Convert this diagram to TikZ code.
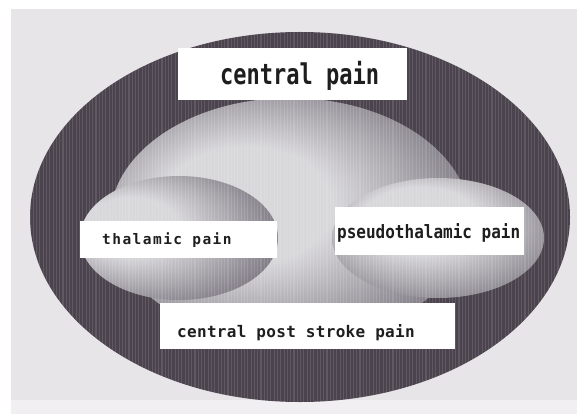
\documentclass[tikz,border=0pt]{standalone}
\usepackage{graphicx}
\usepackage{fontspec}
\newfontfamily\bigfont{DejaVu Sans Mono Bold}
\newfontfamily\thalfont{DejaVu Sans Mono Bold}[LetterSpace=10]
\newfontfamily\cpspfont{DejaVu Sans Mono Bold}[LetterSpace=2]
\definecolor{bgpaper}{HTML}{E7E5E8}
\definecolor{ringdark}{HTML}{4B434D}
\definecolor{midgray}{HTML}{7E7983}
\definecolor{lightcore}{HTML}{D8D7DA}
\definecolor{inkc}{HTML}{1E1E1E}
\pgfdeclareradialshading{coreshade}{\pgfpoint{-8bp}{4bp}}{color(0bp)=(lightcore); color(12bp)=(lightcore); color(30bp)=(midgray); color(44bp)=(ringdark); color(50bp)=(ringdark)}
\pgfdeclareradialshading{thalshade}{\pgfpoint{-16bp}{6bp}}{color(0bp)=(lightcore); color(12bp)=(lightcore); color(32bp)=(midgray); color(50bp)=(ringdark!75!white)}
\pgfdeclareradialshading{pseudoshade}{\pgfpoint{-6bp}{10bp}}{color(0bp)=(lightcore); color(14bp)=(lightcore); color(34bp)=(midgray); color(50bp)=(ringdark!80!white)}
\tikzset{
  whitebox/.style={fill=white},
  labeltext/.style={inner sep=0pt, text=inkc, anchor=base west},
  stripe/.style={white, opacity=0.12, line width=1.1pt},
}
\begin{document}
\begin{tikzpicture}[x=1pt,y=-1pt]
\useasboundingbox (0,0) rectangle (577,414);
\fill[white] (0,0) rectangle (577,414);
\fill[bgpaper] (11,9) rectangle (577,400);
\fill[bgpaper!60!white] (11,400) rectangle (577,414);
% outer ellipse
\fill[ringdark] (300,217) ellipse [x radius=270, y radius=185];
% inner lighter region
\shade[shading=coreshade] (290,220) ellipse [x radius=180, y radius=122];
% small ellipses
\shade[shading=thalshade] (179,238) ellipse [x radius=99, y radius=62];
\shade[shading=pseudoshade] (438,238) ellipse [x radius=106, y radius=60];
% halftone stripes
\begin{scope}
\clip (300,217) ellipse [x radius=270, y radius=185];
\foreach \sx in {30,33.3,...,572} {\draw[stripe] (\sx,30) -- (\sx,405);}
\end{scope}
% white label boxes
\fill[whitebox] (178,48) rectangle (407,100);
\fill[whitebox] (80,221) rectangle (277,258);
\fill[whitebox] (335,207) rectangle (524,255);
\fill[whitebox] (160,303) rectangle (455,349);
% labels
\node[labeltext] (central) at (220,85) {\bigfont\fontsize{22}{26}\selectfont\scalebox{1}[1.3]{central pain}};
\node[labeltext] (thal) at (102,244) {\thalfont\fontsize{14.5}{17}\selectfont thalamic pain};
\node[labeltext] (pseudo) at (337,238) {\bigfont\fontsize{16}{19}\selectfont\scalebox{1}[1.15]{pseudothalamic pain}};
\node[labeltext] (cpsp) at (177,337) {\cpspfont\fontsize{16}{19}\selectfont central post stroke pain};
\end{tikzpicture}
\end{document}
